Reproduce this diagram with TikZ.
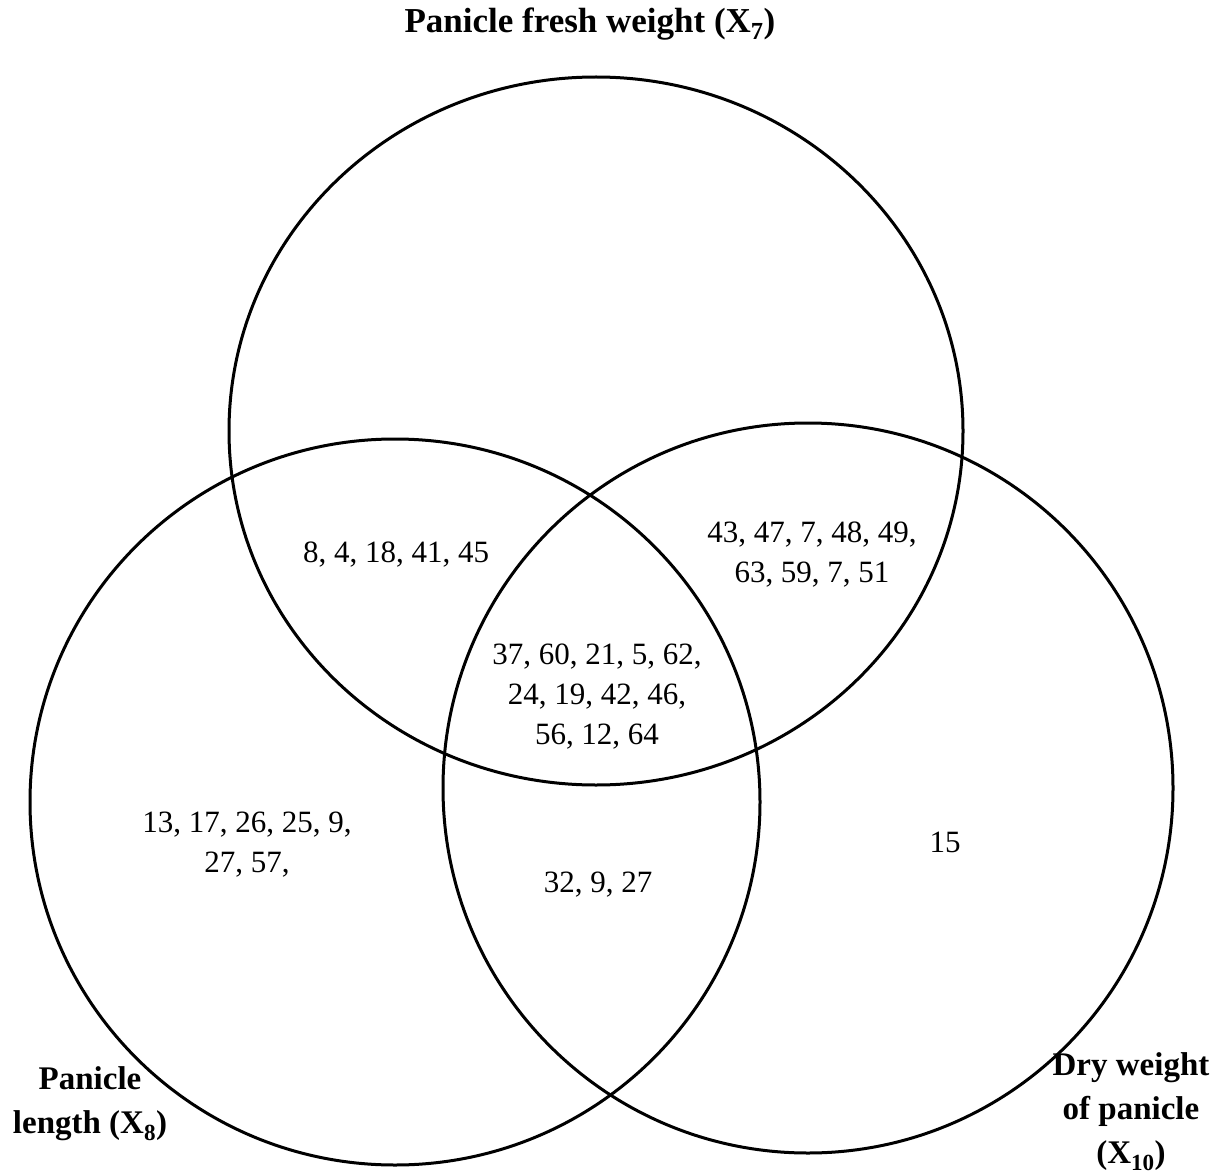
\documentclass[tikz,border=0pt]{standalone}
\usepackage{fontspec}
\setmainfont{Liberation Serif}
\tikzset{
  venn/.style={draw=black, line width=3pt},
  nums/.style={font=\fontsize{31}{40}\selectfont, align=center, inner sep=0pt},
  lbl/.style={font=\fontsize{33}{44}\selectfont\bfseries, align=center, inner sep=0pt},
  ttl/.style={font=\fontsize{35}{44}\selectfont\bfseries, align=center, inner sep=0pt}
}
\begin{document}
\begin{tikzpicture}[x=1pt,y=-1pt]
\useasboundingbox (0,0) rectangle (1223,1174);
\draw[venn] (596,431) ellipse [x radius=367, y radius=354];
\draw[venn] (395,802) ellipse [x radius=365, y radius=363];
\draw[venn] (808,788) ellipse [x radius=365, y radius=365];
\node[ttl] (t7) at (590,24) {Panicle fresh weight (X\textsubscript{7})};
\node[lbl] (t8) at (90,1104) {Panicle\\length (X\textsubscript{8})};
\node[lbl] (t10) at (1131,1112) {Dry weight\\of panicle\\(X\textsubscript{10})};
\node[nums] (a) at (396,555) {8, 4, 18, 41, 45};
\node[nums] (b) at (812,555) {43, 47, 7, 48, 49,\\63, 59, 7, 51};
\node[nums] (c) at (597,697) {37, 60, 21, 5, 62,\\24, 19, 42, 46,\\56, 12, 64};
\node[nums] (d) at (247,845) {13, 17, 26, 25, 9,\\27, 57,};
\node[nums] (e) at (598,885) {32, 9, 27};
\node[nums] (f) at (945,842) {15};
\end{tikzpicture}
\end{document}
